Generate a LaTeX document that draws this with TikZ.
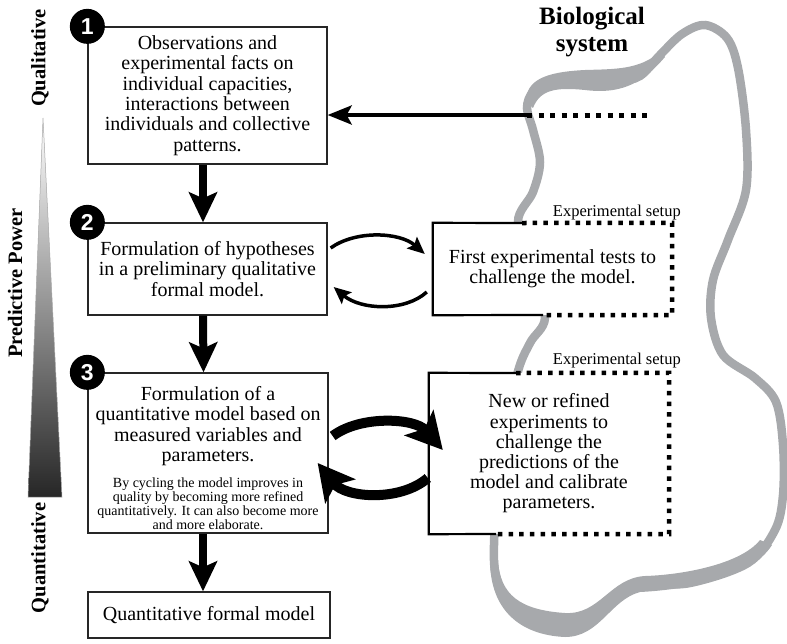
\documentclass[tikz,border=0pt]{standalone}
\usepackage{fontspec}
\setmainfont{Liberation Serif}[BoldFont={Liberation Serif Bold}, ItalicFont={Liberation Serif Italic}]
\newfontfamily\numfont{Liberation Sans}[BoldFont={Liberation Sans Bold}]
\newfontfamily\serifbold{Liberation Serif Bold}
\usetikzlibrary{arrows.meta,calc}
\definecolor{bandgray}{HTML}{A7A9AC}
\begin{document}
\begin{tikzpicture}[x=1pt,y=-1pt,
  box/.style={draw=black!85, line width=1.3pt, fill=white, align=center, inner sep=0pt,
              font=\fontsize{20}{20.4}\selectfont},
  expbox/.style={fill=white, align=center, inner sep=0pt, font=\fontsize{20}{20.2}\selectfont},
  plaintext/.style={align=center, inner sep=0pt, font=\fontsize{20}{20.6}\selectfont},
  smalltext/.style={align=center, inner sep=0pt, font=\fontsize{14}{13.9}\selectfont},
  numcirc/.style={circle, fill=black, text=white, minimum size=35pt, inner sep=0pt,
                  font=\numfont\bfseries\fontsize{23}{23}\selectfont},
  sidelabel/.style={rotate=90, inner sep=0pt, font=\serifbold\fontsize{20.5}{20.5}\selectfont},
  setup/.style={inner sep=0pt, font=\fontsize{16.5}{16.5}\selectfont},
  solidedge/.style={line width=2.2pt, black, line join=miter},
  dotedge/.style={line width=4.5pt, black, dash pattern=on 4.5pt off 6.2pt},
  vthick/.style={line width=8pt, -{Stealth[length=30pt,width=28pt,inset=6pt]}},
  harrow/.style={line width=4pt, -{Stealth[length=24pt,width=19pt,inset=5pt]}},
  thinbend/.style={line width=3.5pt, -{Stealth[length=17pt,width=15pt,inset=3pt]}},
  thickbend/.style={line width=10pt, -{Stealth[length=36pt,width=38pt,inset=8pt]}},
  band/.style={draw=bandgray, line width=8.5pt}
]
\useasboundingbox (0,0) rectangle (787,643);

% biological system outline
\draw[band] plot[smooth cycle, tension=0.55] coordinates {
  (527,108) (533,92) (552,82) (585,80) (618,81) (640,76) (660,55) (682,34) (705,25)
  (727,38) (738,68) (746,130) (746,190) (728,240) (713,280) (711,318) (723,355)
  (755,378) (776,402) (783,445) (783,495) (775,530) (748,563) (690,583) (640,585)
  (612,598) (585,622) (550,625) (512,608) (497,580) (494,545) (500,460) (517,375)
  (530,343) (545,318) (535,270) (518,222) (533,192) (540,162) (533,130)};
\fill[bandgray] (526,102) .. controls (526,80) and (545,72) .. (585,70)
  .. controls (615,69) and (640,70) .. (661,51) -- (665,57)
  .. controls (645,80) and (625,95) .. (585,90)
  .. controls (555,87) and (540,90) .. (533,108) -- cycle;
\fill[bandgray] (490,560) .. controls (490,610) and (520,635) .. (565,637)
  .. controls (600,637) and (610,600) .. (640,592)
  .. controls (680,590) and (750,580) .. (772,545) -- (760,540)
  .. controls (740,565) and (680,575) .. (645,576)
  .. controls (610,578) and (600,615) .. (565,613)
  .. controls (520,610) and (500,595) .. (498,560) -- cycle;

\node[font=\serifbold\fontsize{25}{27}\selectfont, align=center, inner sep=0pt] (bio) at (592,32) {Biological\\system};

% predictive power wedge
\shade[top color=white, bottom color=black!85, draw=gray!70, line width=0.5pt]
  (43,118) -- (62,497) -- (28,497) -- cycle;
\node[sidelabel] (qual) at (40,58) {Qualitative};
\node[sidelabel] (pp) at (15,283) {Predictive Power};
\node[sidelabel] (quant) at (40,558) {Quantitative};

% left boxes
\node[box, minimum width=239pt, minimum height=137pt] (box1) at (207.5,95.5)
  {Observations and\\experimental facts on\\individual capacities,\\interactions between\\individuals and collective\\patterns.};
\node[box, minimum width=239pt, minimum height=92pt] (box2) at (207.5,269)
  {Formulation of hypotheses\\in a preliminary qualitative\\formal model.};
\node[box, minimum width=240pt, minimum height=160pt] (box3) at (208,453) {};
\node[plaintext] (t3) at (208,426) {Formulation of a\\quantitative model based on\\measured variables and\\parameters.};
\node[smalltext] (s3) at (208,504) {By cycling the model improves in\\quality by becoming more refined\\quantitatively. It can also become more\\and more elaborate.};
\node[box, minimum width=242pt, minimum height=46pt] (box4) at (209,615) {Quantitative formal model};

\node[numcirc] (c1) at (box1.north west) {1};
\node[numcirc] (c2) at (box2.north west) {2};
\node[numcirc] (c3) at (box3.north west) {3};

% experimental boxes
\node[expbox, minimum width=239pt, minimum height=92pt] (exp1) at (552.5,269)
  {First experimental tests to\\challenge the model.};
\node[expbox, minimum width=240pt, minimum height=161pt] (exp2) at (549,453.5)
  {New or refined\\experiments to\\challenge the\\predictions of the\\model and calibrate\\parameters.};
\coordinate (e1t) at (522,223);
\coordinate (e1b) at (543,315);
\coordinate (e2t) at (516,373);
\coordinate (e2b) at (496,534);
\draw[solidedge] (e1t) -- (exp1.north west) -- (exp1.south west) -- (e1b);
\draw[dotedge] (e1t) -- (exp1.north east) -- (exp1.south east) -- (e1b);
\draw[solidedge] (e2t) -- (exp2.north west) -- (exp2.south west) -- (e2b);
\draw[dotedge] (e2t) -- (exp2.north east) -- (exp2.south east) -- (e2b);
\node[setup, anchor=base east] (lab1) at (681,216) {Experimental setup};
\node[setup, anchor=base east] (lab2) at (681,364) {Experimental setup};

% observation arrow
\coordinate (obs) at (527,115);
\coordinate (obsend) at (650,115);
\draw[dotedge, line width=5pt, dash pattern=on 5pt off 6.5pt] (obs) -- (obsend);
\draw[harrow] (obs) -- (obs -| box1.east);

% vertical arrows
\draw[vthick] ([xshift=-4.5pt]box1.south) -- ([xshift=-4.5pt]box2.north);
\draw[vthick] ([xshift=-4.5pt]box2.south) -- ([xshift=-4.5pt]box3.north);
\draw[vthick] ([xshift=-5pt]box3.south) -- ([xshift=-6pt]box4.north);

% cycling arrows
\draw[thinbend] ($(box2.east)+(3,-21)$) .. controls +(25,-18) and +(-25,-22) .. ($(exp1.west)+(-8,-15)$);
\draw[thinbend] ($(exp1.west)+(-6,23)$) .. controls +(-22,20) and +(27,23) .. ($(box2.east)+(6,18)$);
\draw[thickbend] ($(box3.east)+(4,-17)$) .. controls +(28,-21) and +(-28,-32) .. ($(exp2.west)+(14,-3.5)$);
\draw[thickbend] ($(exp2.west)+(-1,24.5)$) .. controls +(-28,24) and +(28,35) .. ($(box3.east)+(-11,10)$);
\end{tikzpicture}
\end{document}
